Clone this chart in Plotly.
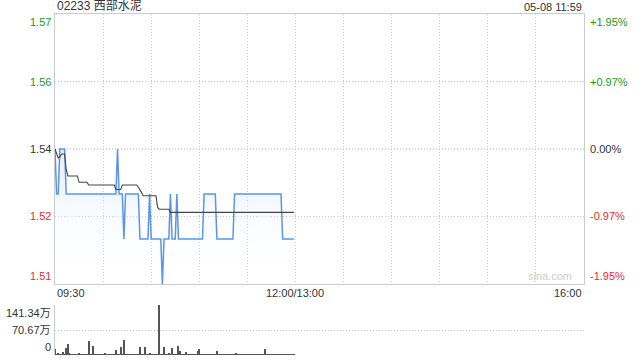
import plotly.graph_objects as go

# ---------------- data ----------------
title_text = "02233 西部水泥"
stamp_text = "05-08 11:59"
prev_close = 1.54

minutes = list(range(150))  # minutes since 09:30 (morning session up to 11:59)

prices = [
    1.54, 1.53, 1.53, 1.54, 1.54, 1.54, 1.54, 1.53, 1.53, 1.53,
    1.53, 1.53, 1.53, 1.53, 1.53, 1.53, 1.53, 1.53, 1.53, 1.53,
    1.53, 1.53, 1.53, 1.53, 1.53, 1.53, 1.53, 1.53, 1.53, 1.53,
    1.53, 1.53, 1.53, 1.53, 1.53, 1.53, 1.53, 1.53, 1.53, 1.54,
    1.53, 1.53, 1.53, 1.52, 1.53, 1.53, 1.53, 1.53, 1.53, 1.53,
    1.53, 1.53, 1.53, 1.52, 1.52, 1.52, 1.52, 1.52, 1.52, 1.53,
    1.52, 1.52, 1.52, 1.52, 1.52, 1.52, 1.52, 1.51, 1.52, 1.52,
    1.52, 1.52, 1.53, 1.52, 1.52, 1.52, 1.53, 1.52, 1.52, 1.52,
    1.52, 1.52, 1.52, 1.52, 1.52, 1.52, 1.52, 1.52, 1.52, 1.52,
    1.52, 1.52, 1.52, 1.53, 1.53, 1.53, 1.53, 1.53, 1.53, 1.53,
    1.53, 1.52, 1.52, 1.52, 1.52, 1.52, 1.52, 1.52, 1.52, 1.52,
    1.52, 1.52, 1.53, 1.53, 1.53, 1.53, 1.53, 1.53, 1.53, 1.53,
    1.53, 1.53, 1.53, 1.53, 1.53, 1.53, 1.53, 1.53, 1.53, 1.53,
    1.53, 1.53, 1.53, 1.53, 1.53, 1.53, 1.53, 1.53, 1.53, 1.53,
    1.53, 1.53, 1.52, 1.52, 1.52, 1.52, 1.52, 1.52, 1.52, 1.52,
]

avg_prices = [
    1.54, 1.539, 1.538, 1.5382, 1.5389, 1.5389, 1.5389, 1.5355, 1.534, 1.534,
    1.534, 1.534, 1.534, 1.534, 1.534, 1.5326, 1.5326, 1.5326, 1.5326, 1.5326,
    1.5326, 1.532, 1.532, 1.532, 1.532, 1.532, 1.532, 1.532, 1.532, 1.532,
    1.532, 1.532, 1.532, 1.532, 1.532, 1.532, 1.532, 1.532, 1.531, 1.531,
    1.531, 1.531, 1.532, 1.532, 1.532, 1.532, 1.532, 1.532, 1.532, 1.532,
    1.532, 1.532, 1.5315, 1.531, 1.5303, 1.5296, 1.5296, 1.5296, 1.5296, 1.5296,
    1.5296, 1.5296, 1.5296, 1.5296, 1.527, 1.5266, 1.5266, 1.5266, 1.5266, 1.5266,
    1.5266, 1.5266, 1.5259, 1.5259, 1.5259, 1.5259, 1.5259, 1.5259, 1.5259, 1.5259,
    1.5259, 1.5259, 1.5259, 1.5259, 1.5259, 1.5259, 1.5259, 1.5259, 1.5259, 1.5259,
    1.5259, 1.5259, 1.5259, 1.5259, 1.5259, 1.5259, 1.5259, 1.5259, 1.5259, 1.5259,
    1.5259, 1.5259, 1.5259, 1.5259, 1.5259, 1.5259, 1.5259, 1.5259, 1.5259, 1.5259,
    1.5259, 1.5259, 1.5259, 1.5259, 1.5259, 1.5259, 1.5259, 1.5259, 1.5259, 1.5259,
    1.5259, 1.5259, 1.5259, 1.5259, 1.5259, 1.5259, 1.5259, 1.5259, 1.5259, 1.5259,
    1.5259, 1.5259, 1.5259, 1.5259, 1.5259, 1.5259, 1.5259, 1.5259, 1.5259, 1.5259,
    1.5259, 1.5259, 1.5259, 1.5259, 1.5259, 1.5259, 1.5259, 1.5259, 1.5259, 1.5259,
]

volumes_wan = [
    17, 2, 3, 2, 2, 8, 2, 20, 31, 3,
    2, 1, 2, 1, 2, 6, 1, 2, 1, 2,
    1, 40, 2, 1, 25, 2, 1, 2, 1, 1,
    2, 5, 1, 2, 1, 2, 2, 1, 14, 2,
    1, 22, 2, 42, 2, 1, 2, 1, 2, 1,
    1, 2, 2, 22, 2, 1, 22, 2, 1, 5,
    1, 2, 1, 2, 1, 141.34, 2, 1, 22, 2,
    1, 5, 2, 20, 2, 1, 2, 25, 10, 2,
    1, 2, 8, 1, 2, 1, 2, 1, 2, 11,
    17, 2, 1, 2, 1, 2, 1, 1, 2, 1,
    2, 11, 1, 2, 1, 1, 2, 1, 2, 1,
    1, 2, 1, 5, 1, 2, 1, 1, 2, 1,
    2, 1, 1, 2, 1, 2, 1, 1, 2, 1,
    2, 17, 1, 2, 1, 1, 2, 1, 1, 2,
    1, 2, 1, 1, 2, 1, 1, 2, 1, 1,
]

pct_levels = [1.95, 0.97, 0.0, -0.97, -1.95]
left_labels = ["1.57", "1.56", "1.54", "1.52", "1.51"]
right_labels = ["+1.95%", "+0.97%", "0.00%", "-0.97%", "-1.95%"]
label_colors = ["#1a9a1a", "#1a9a1a", "#333333", "#ee2a2a", "#ee2a2a"]

time_ticks = [0, 150, 330]
time_labels = ["09:30", "12:00/13:00", "16:00"]
time_anchor = ["left", "center", "right"]
grid_minutes = [30, 60, 90, 120, 150, 180, 210, 240, 270, 300]

vol_max = 141.34
vol_ticks = [141.34, 70.67, 0]
vol_labels = ["141.34万", "70.67万", "0"]

# ---------------- figure ----------------
FONT = "Liberation Sans, Arial, Noto Sans CJK SC, sans-serif"
DOT = "1px,2px"
y_levels = [prev_close * (1 + p / 100) for p in pct_levels]
y_top, y_bot = y_levels[0], y_levels[-1]

fig = go.Figure()

# helper baseline for the gradient fill
fig.add_trace(go.Scatter(x=minutes, y=[y_bot] * len(minutes), mode="lines",
                         line=dict(width=0, color="rgba(0,0,0,0)"),
                         hoverinfo="skip", showlegend=False, xaxis="x", yaxis="y"))
fig.add_trace(go.Scatter(
    x=minutes, y=prices, mode="lines", fill="tonexty",
    fillgradient=dict(type="vertical", start=y_bot, stop=max(prices),
                      colorscale=[[0, "rgba(255,255,255,0)"], [1, "rgba(205,222,250,0.55)"]]),
    line=dict(color="#5a95ea", width=1.5), showlegend=False, xaxis="x", yaxis="y"))
fig.add_trace(go.Scatter(x=minutes, y=avg_prices, mode="lines",
                         line=dict(color="#444444", width=1.1),
                         showlegend=False, xaxis="x", yaxis="y"))
fig.add_trace(go.Bar(x=minutes, y=volumes_wan, width=0.65,
                     marker=dict(color="#555555", line=dict(width=0)),
                     showlegend=False, xaxis="x2", yaxis="y2"))

H = 341.0
price_bottom = (355 - 284) / H
vol_top = (355 - 305) / H

fig.update_layout(
    width=640, height=360,
    margin=dict(l=55, r=56, t=14, b=5, autoexpand=False),
    paper_bgcolor="white", plot_bgcolor="white",
    font=dict(family=FONT, size=11, color="#333333"),
    bargap=0,
    xaxis=dict(domain=[0, 1], range=[0, 330], tickvals=grid_minutes, showticklabels=False,
               showgrid=True, gridcolor="#c8c8c8", griddash=DOT, gridwidth=1,
               showline=True, linecolor="#cccccc", mirror=True, zeroline=False, ticks=""),
    yaxis=dict(domain=[price_bottom, 1], range=[y_bot, y_top],
               tickvals=[y_levels[1], y_levels[3]], showticklabels=False,
               showgrid=True, gridcolor="#c8c8c8", griddash=DOT,
               showline=True, linecolor="#cccccc", mirror=True, zeroline=False, ticks=""),
    xaxis2=dict(domain=[0, 1], range=[0, 330], anchor="y2", showticklabels=False,
                showgrid=False, showline=False, zeroline=False, ticks=""),
    yaxis2=dict(domain=[0, vol_top], range=[0, vol_max], anchor="x2",
                tickvals=[vol_ticks[1], vol_ticks[0]], showticklabels=False,
                showgrid=True, gridcolor="#c8c8c8", griddash=DOT,
                showline=True, linecolor="#cccccc", zeroline=False, ticks=""),
)

# darker dotted line at previous close
fig.add_shape(type="line", xref="x", yref="y", x0=0, x1=330, y0=prev_close, y1=prev_close,
              line=dict(color="#aaaaaa", width=1, dash=DOT), layer="below")

ann = []
ann.append(dict(text=title_text, xref="paper", yref="paper", x=0, y=1, yshift=-1,
                xanchor="left", yanchor="bottom", showarrow=False,
                font=dict(size=12, color="#333333", family=FONT)))
ann.append(dict(text=stamp_text, xref="paper", yref="paper", x=1, y=1, yshift=-1,
                xanchor="right", yanchor="bottom", showarrow=False,
                font=dict(size=11, color="#333333", family=FONT)))
anchors = ["top", "middle", "middle", "middle", "bottom"]
for yv, lt, rt, c, a in zip(y_levels, left_labels, right_labels, label_colors, anchors):
    ann.append(dict(text=lt, xref="paper", yref="y", x=0, y=yv, xanchor="right", yanchor=a,
                    xshift=-2, showarrow=False, font=dict(size=11, color=c, family=FONT)))
    ann.append(dict(text=rt, xref="paper", yref="y", x=1, y=yv, xanchor="left", yanchor=a,
                    xshift=4, showarrow=False, font=dict(size=11, color=c, family=FONT)))
for tv, tl, ta in zip(time_ticks, time_labels, time_anchor):
    ann.append(dict(text=tl, xref="x", yref="y", x=tv, y=y_bot, xanchor=ta, yanchor="top",
                    yshift=-1, showarrow=False, font=dict(size=11, color="#333333", family=FONT)))
vanch = ["top", "middle", "bottom"]
for vv, vl, va in zip(vol_ticks, vol_labels, vanch):
    ann.append(dict(text=vl, xref="paper", yref="y2", x=0, y=vv, xanchor="right", yanchor=va,
                    xshift=-2, showarrow=False, font=dict(size=11, color="#333333", family=FONT)))
ann.append(dict(text="sina.com", xref="paper", yref="y", x=1, y=y_bot, xanchor="right",
                yanchor="bottom", xshift=-10, showarrow=False,
                font=dict(size=11, color="#cccccc", family=FONT)))
fig.update_layout(annotations=ann)

fig.write_html("out.html", config={"displayModeBar": False},
               post_script="document.body.style.margin='0';document.body.style.padding='0';")
